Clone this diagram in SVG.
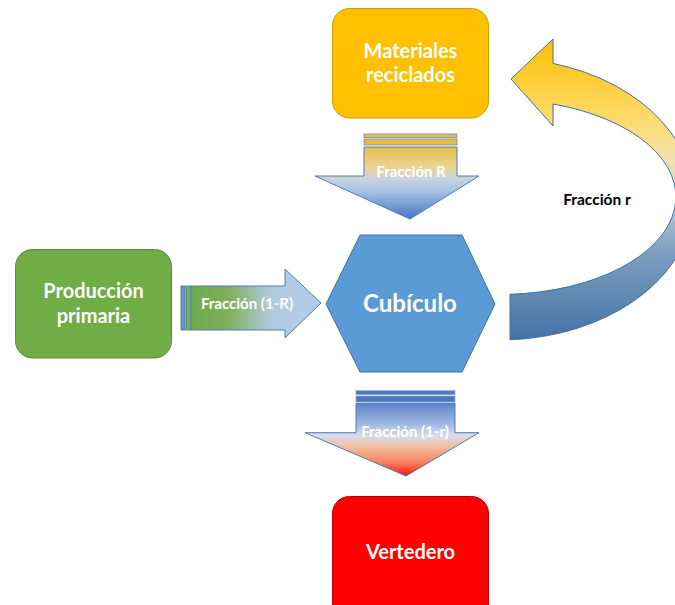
<svg xmlns="http://www.w3.org/2000/svg" width="675" height="605" viewBox="0 0 675 605">
<defs>
<style>
.lbl{font-family:Lato,"Liberation Sans",sans-serif;font-weight:bold;fill:#FFFFFF;text-anchor:middle}
.node{font-size:20px}
.arr{font-size:15px}
.ast{stroke:#4F7DBA;stroke-width:1}
</style>
<linearGradient id="gTop" gradientUnits="userSpaceOnUse" x1="0" y1="147" x2="0" y2="219">
<stop offset="0" stop-color="#E6BE4C"/>
<stop offset="0.28" stop-color="#EBD594"/>
<stop offset="0.44" stop-color="#C9D4DF"/>
<stop offset="0.6" stop-color="#A9C4E6"/>
<stop offset="1" stop-color="#4676C8"/>
</linearGradient>
<linearGradient id="gBot" gradientUnits="userSpaceOnUse" x1="0" y1="403" x2="0" y2="476">
<stop offset="0" stop-color="#5A85CB"/>
<stop offset="0.3" stop-color="#A3BBE2"/>
<stop offset="0.45" stop-color="#DADCE8"/>
<stop offset="0.62" stop-color="#F3B996"/>
<stop offset="0.82" stop-color="#F7805E"/>
<stop offset="1" stop-color="#FF0F0F"/>
</linearGradient>
<linearGradient id="gLeft" gradientUnits="userSpaceOnUse" x1="191" y1="0" x2="321" y2="0">
<stop offset="0" stop-color="#6DAA48"/>
<stop offset="0.3" stop-color="#80B05F"/>
<stop offset="0.6" stop-color="#B0CADB"/>
<stop offset="1" stop-color="#B2CEEC"/>
</linearGradient>
<linearGradient id="gCurve" gradientUnits="userSpaceOnUse" x1="0" y1="39" x2="0" y2="340">
<stop offset="0" stop-color="#FFC000"/>
<stop offset="0.25" stop-color="#FFD966"/>
<stop offset="0.4" stop-color="#F2E3AE"/>
<stop offset="0.52" stop-color="#C6D3DC"/>
<stop offset="0.7" stop-color="#7FA0C1"/>
<stop offset="1" stop-color="#4472A6"/>
</linearGradient>
</defs>

<g id="connectors">
<g id="arrow-fraccion-R">
<rect x="364" y="134" width="93" height="3.5" fill="#E4BC46" stroke="#6B8CB8" stroke-width="0.8"/>
<rect x="364" y="139" width="93" height="6" fill="#E4BC46" stroke="#6B8CB8" stroke-width="0.8"/>
<path class="ast" d="M364,147 L457,147 L457,176 L479,176 L410,219 L315,176 L364,176 Z" fill="url(#gTop)"/>
<text class="lbl arr" x="411" y="177">Fracción R</text>
</g>
<g id="arrow-fraccion-1-R">
<rect x="181" y="286" width="4" height="44" fill="#6896C8" stroke="#41719C" stroke-width="0.8"/>
<rect x="186" y="286" width="5" height="44" fill="#78AD55" stroke="#41719C" stroke-width="0.8"/>
<path class="ast" d="M191,286 L285,286 L285,269 L321,303 L285,338 L285,330 L191,330 Z" fill="url(#gLeft)"/>
<text class="lbl arr" x="247" y="309">Fracción (1-R)</text>
</g>
<g id="arrow-fraccion-1-r">
<rect x="356" y="390.7" width="99" height="4" fill="#4A77C0" stroke="#8FAAD8" stroke-width="0.8"/>
<rect x="356" y="396" width="99" height="6" fill="#4A77C0" stroke="#8FAAD8" stroke-width="0.8"/>
<path class="ast" d="M356,403.3 L455,403.3 L455,432.7 L479,432.7 L406,476 L305,432.7 L356,432.7 Z" fill="url(#gBot)"/>
<text class="lbl arr" x="405" y="437">Fracción (1-r)</text>
</g>
<g id="arrow-fraccion-r">
<path d="M510,339.8 A194,141 0 0 0 553,63.4 L553,39 L511,79 L553,126 L553,104 A176,97.5 0 0 1 510,294.3 Z" fill="url(#gCurve)" stroke="#41719C" stroke-width="1"/>
<text x="597" y="205" font-family="Lato,'Liberation Sans',sans-serif" font-weight="bold" font-size="15.5" fill="#000000" text-anchor="middle">Fracción r</text>
</g>
</g>

<g id="materiales-reciclados">
<rect x="332.5" y="8.5" width="156" height="109.5" rx="17" fill="#FFC000" stroke="#C9A000" stroke-width="1"/>
<text class="lbl node" x="410.5" y="57.5">Materiales</text>
<text class="lbl node" x="410.5" y="82">reciclados</text>
</g>

<g id="produccion-primaria">
<rect x="15.5" y="249.5" width="156" height="108.5" rx="17" fill="#70AD47" stroke="#5A8E38" stroke-width="1"/>
<text class="lbl node" x="93.5" y="297.5">Producción</text>
<text class="lbl node" x="93.5" y="322.5">primaria</text>
</g>

<g id="cubiculo">
<polygon points="360,235 462,235 495,304 462,372 360,372 326,304" fill="#5B9BD5" stroke="#41719C" stroke-width="1"/>
<text class="lbl" x="410" y="312" font-size="24">Cubículo</text>
</g>

<g id="vertedero">
<rect x="332.5" y="496.5" width="156" height="125" rx="17" fill="#FF0000" stroke="#C00000" stroke-width="1"/>
<text class="lbl node" x="410.5" y="559">Vertedero</text>
</g>
</svg>
